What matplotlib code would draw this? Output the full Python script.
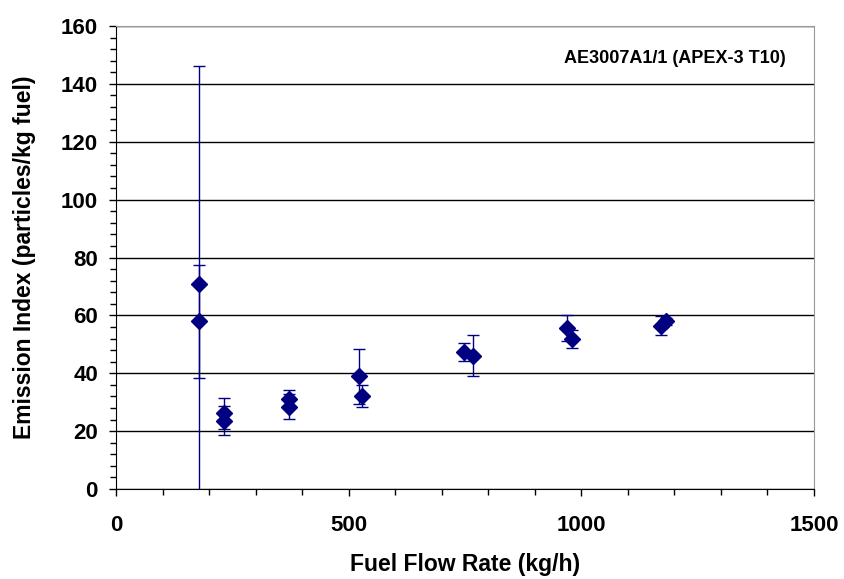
import matplotlib
matplotlib.use("Agg")
import matplotlib.pyplot as plt
import numpy as np
from matplotlib.ticker import MultipleLocator

plt.rcParams["font.family"] = ["Liberation Sans", "DejaVu Sans"]
plt.rcParams["font.weight"] = "bold"

# fuel flow (kg/h), emission index (particles/kg fuel), symmetric error
fuel_flow = [178, 178, 232, 233, 371, 372, 523, 528, 748, 767, 969, 979, 1171, 1182]
emission_index = [70.8, 58.0, 26.2, 23.6, 31.2, 28.5, 39.0, 32.3, 47.3, 46.1, 55.5, 51.8, 56.5, 58.0]
ei_error = [75.5, 19.5, 5.3, 5.0, 3.0, 4.2, 9.5, 3.8, 3.2, 7.0, 4.5, 3.0, 3.3, 1.2]

title_text = "AE3007A1/1 (APEX-3 T10)"
navy = "#000080"

fig = plt.figure(figsize=(8.45, 5.79), dpi=100)
ax = fig.add_axes([0.1373, 0.1554, 0.826, 0.7997])

ax.yaxis.grid(True, color="black", linewidth=1.0)
ax.set_axisbelow(True)

ax.errorbar(fuel_flow, emission_index, yerr=ei_error, fmt="none",
            ecolor=navy, elinewidth=1.0, capsize=4, capthick=1.0, zorder=3)
ax.plot(fuel_flow, emission_index, linestyle="none", marker="D",
        markersize=8.5, color=navy, zorder=4)

ax.set_xlim(0, 1500)
ax.set_ylim(0, 160)
ax.xaxis.set_major_locator(MultipleLocator(500))
ax.xaxis.set_minor_locator(MultipleLocator(100))
ax.yaxis.set_major_locator(MultipleLocator(20))
ax.yaxis.set_minor_locator(MultipleLocator(4))

ax.tick_params(axis="both", which="major", direction="out", length=5, width=1,
               labelsize=16, pad=14)
ax.tick_params(axis="both", which="minor", direction="out", length=4, width=1)
ax.tick_params(axis="y", which="major", pad=8)
for lbl in ax.get_xticklabels() + ax.get_yticklabels():
    lbl.set_fontweight("bold")

ax.spines["top"].set_color("#999999")
ax.spines["right"].set_color("#999999")
ax.spines["left"].set_color("black")
ax.spines["bottom"].set_color("black")

ax.set_xlabel("Fuel Flow Rate (kg/h)", fontsize=16.5, fontweight="bold", labelpad=12)
ax.set_ylabel("Emission Index (particles/kg fuel)", fontsize=16.5, fontweight="bold", labelpad=18)

ax.text(0.96, 0.93, title_text, transform=ax.transAxes, ha="right", va="center",
        fontsize=13, fontweight="bold")

fig.savefig("out.png", dpi=100)
